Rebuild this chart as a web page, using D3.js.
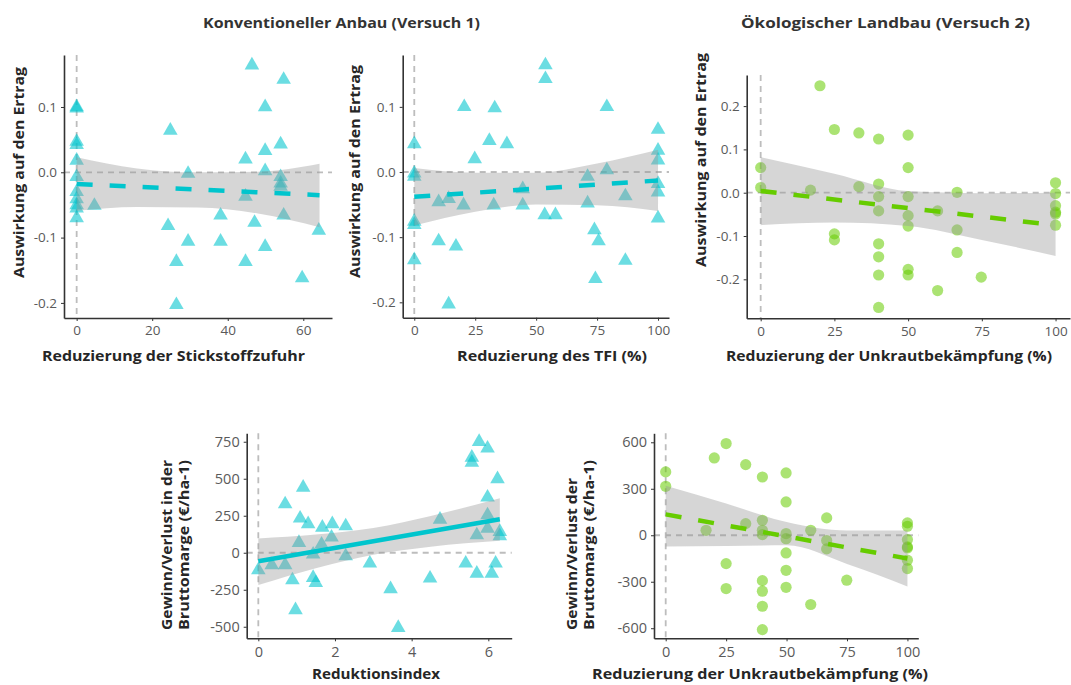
<!DOCTYPE html>
<html>
<head>
<meta charset="utf-8">
<script src="https://cdn.jsdelivr.net/npm/d3@7/dist/d3.min.js"></script>
<style>
  html, body { margin: 0; padding: 0; background: #fff; }
  svg { display: block; font-family: "Open Sans", Lato, sans-serif; }
</style>
</head>
<body>
<svg id="chart" width="1071" height="685"></svg>
<script>
// ---- Konventioneller Anbau: Stickstoff-Reduktion vs. Ertrag ----
const nitrogenReduction = [0, 0, 0, 0, 0, 0, 0, 0, 0, 0, 0, 4.7, 24.8, 24.2, 29.5, 29.5, 26.4, 26.4, 38.1, 38.1,
  44.7, 44.7, 44.7, 46.4, 47.1, 49.9, 49.9, 49.9, 49.9, 54.0, 54.0, 54.0, 54.0, 54.8, 54.8, 59.7, 64.1];
const nitrogenYield = [0.100, 0.098, 0.047, 0.042, 0.018, -0.007, -0.030, -0.041, -0.050, -0.055, -0.070, -0.051,
  0.064, -0.082, -0.002, -0.106, -0.137, -0.203, -0.066, -0.106, 0.020, -0.037, -0.137, 0.164, -0.077,
  0.100, 0.033, 0.002, -0.114, 0.043, -0.007, -0.017, -0.022, 0.142, -0.066, -0.162, -0.089];
const nitrogenFitX = [0, 64.3];
const nitrogenFitY = [-0.018, -0.035];
const nitrogenBandX = [0, 16, 32, 48, 64.3];
const nitrogenBandLo = [-0.059, -0.053, -0.054, -0.063, -0.084];
const nitrogenBandHi = [0.023, 0.006, 0.000, 0.001, 0.013];

// ---- Konventioneller Anbau: TFI-Reduktion vs. Ertrag ----
const tfiReduction = [0, 0, 0, 0, 0, 0, 10, 10, 14.1, 14.1, 17.1, 20.5, 20.2, 24.8, 30.8, 33, 32.6, 38, 44.5, 44.5,
  53.8, 53.8, 53.5, 57.9, 71.1, 71.1, 73.9, 75.6, 74.3, 79, 79, 86.6, 86.6, 100, 100, 100, 100, 100, 100];
const tfiYield = [0.043, -0.002, -0.007, -0.076, -0.081, -0.135, -0.046, -0.106, -0.041, -0.203, -0.114, 0.100,
  -0.051, 0.020, 0.048, 0.098, -0.051, 0.043, -0.026, -0.051, 0.164, 0.143, -0.066, -0.066, -0.007, -0.048,
  -0.089, -0.106, -0.164, 0.100, 0.003, -0.037, -0.136, 0.065, 0.033, 0.018, -0.018, -0.031, -0.071];
const tfiFitX = [0, 100];
const tfiFitY = [-0.038, -0.013];
const tfiBandX = [0, 25, 50, 75, 100];
const tfiBandLo = [-0.082, -0.061, -0.050, -0.051, -0.060];
const tfiBandHi = [0.006, -0.001, -0.001, 0.013, 0.034];

// ---- Ökologischer Landbau: Unkrautbekämpfung vs. Ertrag ----
const weedReductionYield = [0, 0, 16.9, 20.1, 25, 25, 25, 33.3, 33.3, 40, 40, 40, 40, 40, 40, 40, 40,
  50, 50, 50, 50, 50, 50, 50, 60, 60, 66.6, 66.6, 66.6, 74.8, 100, 100, 100, 100, 100, 100];
const organicYield = [0.058, 0.012, 0.006, 0.247, 0.146, -0.095, -0.109, 0.138, 0.014, 0.124, 0.020, -0.009,
  -0.042, -0.118, -0.148, -0.190, -0.265, 0.133, 0.058, -0.009, -0.053, -0.077, -0.177, -0.190, -0.042,
  -0.226, 0.001, -0.086, -0.138, -0.195, 0.023, -0.002, -0.030, -0.045, -0.049, -0.075];
const organicYieldFitX = [0, 100];
const organicYieldFitY = [0.004, -0.075];
const organicYieldBandX = [0, 25, 50, 75, 100];
const organicYieldBandLo = [-0.075, -0.069, -0.077, -0.109, -0.146];
const organicYieldBandHi = [0.082, 0.044, 0.004, -0.001, 0.000];

// ---- Konventioneller Anbau: Reduktionsindex vs. Bruttomarge ----
const reductionIndex = [0, 0.35, 0.7, 0.7, 0.89, 0.97, 1.09, 1.06, 1.17, 1.3, 1.43, 1.43, 1.5, 1.65, 1.67, 1.93,
  1.91, 2.28, 2.28, 2.91, 3.45, 3.65, 4.48, 4.74, 5.41, 5.57, 5.57, 5.7, 5.7, 5.76, 5.98, 5.98, 5.98, 5.98,
  6.09, 6.19, 6.24, 6.3, 6.3];
const conventionalMargin = [-117, -83, 329, -83, -185, -387, 232, 68, 441, 194, -11, -169, -203, 56, 171, 194,
  104, 180, -23, -72, -245, -507, -173, 225, -72, 644, 610, -140, 119, 750, 705, 374, 254, 164, -140, -72,
  498, 142, 113];
const marginFitX = [0, 6.3];
const marginFitY = [-58, 226];
const marginBandX = [0, 1.5, 3, 4.5, 6.3];
const marginBandLo = [-218, -104, -13, 41, 81];
const marginBandHi = [97, 123, 167, 249, 368];

// ---- Ökologischer Landbau: Unkrautbekämpfung vs. Bruttomarge ----
const weedReductionMargin = [0, 0, 16.7, 20.1, 25, 25, 25, 33.1, 33.1, 40, 40, 40, 40, 40, 40, 40, 40,
  49.8, 49.8, 49.8, 49.8, 49.8, 49.8, 49.8, 60, 60, 66.6, 66.6, 66.6, 74.9, 100, 100, 100, 100, 100, 100, 100];
const organicMargin = [409, 316, 32, 499, 592, -183, -344, 456, 75, 376, 97, 32, 4, -293, -361, -458, -609,
  402, 215, 11, -22, -114, -226, -336, 32, -447, 112, -34, -88, -290, 80, 58, -28, -75, -82, -161, -215];
const organicMarginFitX = [0, 100];
const organicMarginFitY = [135, -150];
const organicMarginBandX = [0, 25, 50, 75, 100];
const organicMarginBandLo = [-72, -70, -65, -185, -330];
const organicMarginBandHi = [320, 205, 85, 30, 30];

// ---- Tick labels & titles ----
const yieldTicks = [-0.2, -0.1, 0, 0.1];
const yieldTicksOrganic = [-0.2, -0.1, 0, 0.1, 0.2];
const percentTicks = [0, 25, 50, 75, 100];
const nitrogenTicks = [0, 20, 40, 60];
const indexTicks = [0, 2, 4, 6];
const marginTicks = [-500, -250, 0, 250, 500, 750];
const organicMarginTicks = [-600, -300, 0, 300, 600];

const TEAL = "#00C5CD";
const GREEN = "#66CC00";

const svg = d3.select("#chart");

const fmt1 = d => d.toFixed(1);
const fmt0 = d => String(d);

// bold label with a fixed rendered width
function label(sel, txt, size, width) {
  return sel.append("text")
    .attr("fill", "#262626")
    .style("font-size", size + "px").style("font-weight", 700)
    .attr("textLength", width).attr("lengthAdjust", "spacingAndGlyphs")
    .text(txt);
}

const panels = [
  { box: [64, 332, 55, 318], xd: [-3.35, 67.6], yd: [-0.2231, 0.1796], xt: nitrogenTicks, yt: yieldTicks, yf: fmt1,
    tickFont: 13.5,
    xs: nitrogenReduction, ys: nitrogenYield, fx: nitrogenFitX, fy: nitrogenFitY,
    bx: nitrogenBandX, blo: nitrogenBandLo, bhi: nitrogenBandHi, shape: "tri", color: TEAL, dashed: true,
    xTitle: "Reduzierung der Stickstoffzufuhr", xTitlePos: [173.5, 361], xw: 263,
    yTitle: ["Auswirkung auf den Ertrag"], yTitlePos: [[24, 172.5]], yw: [211], yAnchor: "middle" },
  { box: [402.7, 669, 55, 317.7], xd: [-4.75, 104.5], yd: [-0.2236, 0.1796], xt: percentTicks, yt: yieldTicks, yf: fmt1,
    tickFont: 13.5,
    xs: tfiReduction, ys: tfiYield, fx: tfiFitX, fy: tfiFitY,
    bx: tfiBandX, blo: tfiBandLo, bhi: tfiBandHi, shape: "tri", color: TEAL, dashed: true,
    xTitle: "Reduzierung des TFI (%)", xTitlePos: [552, 361], xw: 190,
    yTitle: ["Auswirkung auf den Ertrag"], yTitlePos: [[360, 171.5]], yw: [213], yAnchor: "middle" },
  { box: [746.7, 1070, 75, 318.3], xd: [-4.74, 104.9], yd: [-0.290, 0.2718], xt: percentTicks, yt: yieldTicksOrganic, yf: fmt1,
    tickFont: 13.5,
    xs: weedReductionYield, ys: organicYield, fx: organicYieldFitX, fy: organicYieldFitY,
    bx: organicYieldBandX, blo: organicYieldBandLo, bhi: organicYieldBandHi, shape: "circle", color: GREEN, dashed: true,
    xTitle: "Reduzierung der Unkrautbekämpfung (%)", xTitlePos: [889, 361], xw: 326,
    yTitle: ["Auswirkung auf den Ertrag"], yTitlePos: [[706, 160]], yw: [214], yAnchor: "middle" },
  { box: [246.7, 511.7, 433.3, 638.3], xd: [-0.303, 6.61], yd: [-578, 807], xt: indexTicks, yt: marginTicks, yf: fmt0,
    tickFont: 14.5,
    xs: reductionIndex, ys: conventionalMargin, fx: marginFitX, fy: marginFitY,
    bx: marginBandX, blo: marginBandLo, bhi: marginBandHi, shape: "tri", color: TEAL, dashed: false,
    xTitle: "Reduktionsindex", xTitlePos: [376, 679], xw: 128,
    yTitle: ["Gewinn/Verlust in der", "Bruttomarge (€/ha-1)"], yTitlePos: [[172, 630], [189, 630]], yw: [170, 170], yAnchor: "start" },
  { box: [654, 918.3, 433.3, 638.3], xd: [-4.84, 104.5], yd: [-665, 658], xt: percentTicks, yt: organicMarginTicks, yf: fmt0,
    tickFont: 14.5,
    xs: weedReductionMargin, ys: organicMargin, fx: organicMarginFitX, fy: organicMarginFitY,
    bx: organicMarginBandX, blo: organicMarginBandLo, bhi: organicMarginBandHi, shape: "circle", color: GREEN, dashed: true,
    xTitle: "Reduzierung der Unkrautbekämpfung (%)", xTitlePos: [760, 679], xw: 336,
    yTitle: ["Gewinn/Verlust der", "Bruttomarge (€/ha-1)"], yTitlePos: [[577, 630], [594, 630]], yw: [152, 170], yAnchor: "start" }
];

panels.forEach(p => {
  const [l, r, t, b] = p.box;
  const x = d3.scaleLinear().domain(p.xd).range([l, r]);
  const y = d3.scaleLinear().domain(p.yd).range([b, t]);
  const g = svg.append("g");

  // zero reference lines
  g.append("line")
    .attr("x1", l).attr("x2", r).attr("y1", y(0)).attr("y2", y(0))
    .attr("stroke", "#bdbdbd").attr("stroke-width", 1.8).attr("stroke-dasharray", "6,5");
  g.append("line")
    .attr("x1", x(0)).attr("x2", x(0)).attr("y1", t).attr("y2", b)
    .attr("stroke", "#bdbdbd").attr("stroke-width", 1.8).attr("stroke-dasharray", "6,5");

  // observations
  const pts = p.xs.map((v, i) => [v, p.ys[i]]);
  if (p.shape === "tri") {
    const tri = d3.symbol().type(d3.symbolTriangle).size(92);
    g.selectAll("path.pt").data(pts).join("path")
      .attr("class", "pt")
      .attr("d", tri)
      .attr("transform", d => `translate(${x(d[0])},${y(d[1])})`)
      .attr("fill", p.color).attr("fill-opacity", 0.58);
  } else {
    g.selectAll("circle.pt").data(pts).join("circle")
      .attr("class", "pt")
      .attr("cx", d => x(d[0])).attr("cy", d => y(d[1])).attr("r", 5.6)
      .attr("fill", p.color).attr("fill-opacity", 0.55);
  }

  // confidence band
  const band = p.bx.map((v, i) => [v, p.blo[i], p.bhi[i]]);
  g.append("path")
    .datum(band)
    .attr("d", d3.area().curve(d3.curveMonotoneX)
      .x(d => x(d[0])).y0(d => y(d[1])).y1(d => y(d[2])))
    .attr("fill", "#999").attr("fill-opacity", 0.4);

  // fitted line
  const fit = p.fx.map((v, i) => [v, p.fy[i]]);
  g.append("path")
    .datum(fit)
    .attr("d", d3.line().x(d => x(d[0])).y(d => y(d[1])))
    .attr("fill", "none").attr("stroke", p.color).attr("stroke-width", 4.5)
    .attr("stroke-dasharray", p.dashed ? "16,17" : null);

  // axes
  const ax = g.append("g").attr("transform", `translate(0,${b})`)
    .call(d3.axisBottom(x).tickValues(p.xt).tickFormat(fmt0).tickSize(3).tickSizeOuter(0).tickPadding(3));
  const ay = g.append("g").attr("transform", `translate(${l},0)`)
    .call(d3.axisLeft(y).tickValues(p.yt).tickFormat(p.yf).tickSize(3).tickSizeOuter(0).tickPadding(4));
  [ax, ay].forEach(a => {
    a.select(".domain").attr("stroke", "#333").attr("stroke-width", 1.6);
    a.selectAll(".tick line").attr("stroke", "#333").attr("stroke-width", 1);
    a.selectAll(".tick text").attr("fill", "#5a5a5a").style("font-size", p.tickFont + "px")
      .style("font-family", "'Open Sans', sans-serif");
  });
  ax.selectAll(".tick text").attr("dy", "0.85em");

  // axis titles
  label(svg, p.xTitle, 15, p.xw)
    .attr("x", p.xTitlePos[0] - p.xw / 2).attr("y", p.xTitlePos[1]);
  p.yTitle.forEach((txt, i) => {
    const [tx, ty] = p.yTitlePos[i];
    const w = p.yw[i];
    const off = p.yAnchor === "middle" ? -w / 2 : 0;
    label(svg, txt, 15, w)
      .attr("transform", `translate(${tx},${ty}) rotate(-90)`)
      .attr("x", off).attr("y", 0);
  });
});

// headline titles
label(svg, "Konventioneller Anbau (Versuch 1)", 14, 277).attr("fill", "#333")
  .attr("x", 203).attr("y", 28);
label(svg, "Ökologischer Landbau (Versuch 2)", 14, 289).attr("fill", "#333")
  .attr("x", 741).attr("y", 28);
</script>
</body>
</html>
